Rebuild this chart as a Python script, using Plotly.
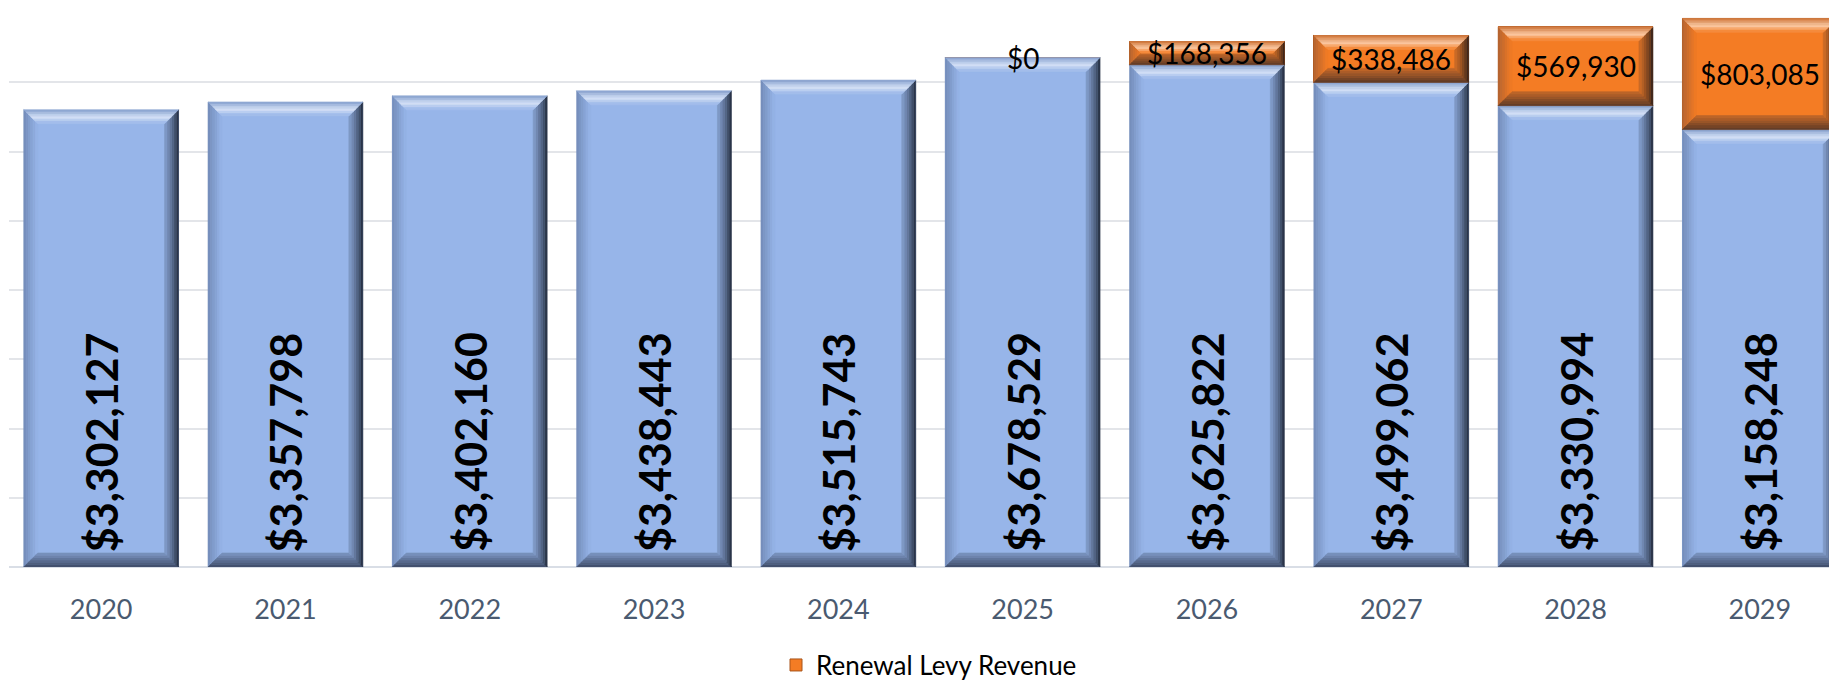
import plotly.graph_objects as go

# Revenue by year
years = [2020, 2021, 2022, 2023, 2024, 2025, 2026, 2027, 2028, 2029]
base_revenue = [3302127, 3357798, 3402160, 3438443, 3515743,
                3678529, 3625822, 3499062, 3330994, 3158248]
levy_revenue = [None, None, None, None, None, 0, 168356, 338486, 569930, 803085]

BLUE = (151, 181, 233)
ORANGE = (244, 124, 36)

W, H = 1829, 681
M_L, M_R, M_T, M_B = 9, 0, 13, 114
plot_w = W - M_L - M_R
plot_h = H - M_T - M_B
CAT_PX = 184.3           # pixels per year on the x axis
Y_MAX = 4_000_000
BAR_W = 0.84
x_range = [years[0] - 0.5, years[0] - 0.5 + plot_w / CAT_PX]

px_x = 1.0 / CAT_PX      # data units per pixel
px_y = Y_MAX / plot_h


def hexc(c):
    return "#%02x%02x%02x" % tuple(int(round(v)) for v in c)


def mix(a, b, t):
    t = max(0.0, min(1.0, t))
    return tuple(a[i] + (b[i] - a[i]) * t for i in range(3))


def palette(base):
    return {
        "top_out": mix(base, (60, 70, 100), 0.22),
        "top_hi": mix(base, (255, 255, 255), 0.6),
        "right_out": mix(base, (10, 14, 24), 0.9),
        "right_in": mix(base, (30, 40, 60), 0.3),
        "left_out": mix(base, (40, 50, 80), 0.32),
        "bot_out": mix(base, (20, 25, 40), 0.68),
        "bot_in": mix(base, (30, 40, 60), 0.22),
    }


def face_color(face, t, base, pal):
    # t: 0 at outer edge, 1 at inner edge of the bevel
    if face == "top":
        if t < 0.55:
            return mix(pal["top_out"], pal["top_hi"], t / 0.55)
        return mix(pal["top_hi"], base, (t - 0.55) / 0.45)
    if face == "right":
        return mix(pal["right_out"], mix(pal["right_in"], base, 0.5), t ** 0.7)
    if face == "left":
        return mix(pal["left_out"], base, t)
    return mix(pal["bot_out"], pal["bot_in"], t)


def bevel_shapes(xc, y0, y1, base, n=6, size_px=14):
    shapes = []
    if y1 - y0 <= 0:
        return shapes
    pal = palette(base)
    x0, x1 = xc - BAR_W / 2, xc + BAR_W / 2
    h_px = (y1 - y0) / px_y
    s = min(size_px, h_px / 2)
    bx, by = s * px_x, s * px_y
    for face in ("left", "bottom", "right", "top"):
        for k in range(n):
            t0, t1 = k / n, (k + 1) / n
            tm = (t0 + t1) / 2
            if face == "top":
                pts = [(x0 + t0 * bx, y1 - t0 * by), (x1 - t0 * bx, y1 - t0 * by),
                       (x1 - t1 * bx, y1 - t1 * by), (x0 + t1 * bx, y1 - t1 * by)]
            elif face == "bottom":
                pts = [(x0 + t0 * bx, y0 + t0 * by), (x1 - t0 * bx, y0 + t0 * by),
                       (x1 - t1 * bx, y0 + t1 * by), (x0 + t1 * bx, y0 + t1 * by)]
            elif face == "right":
                pts = [(x1 - t0 * bx, y0 + t0 * by), (x1 - t0 * bx, y1 - t0 * by),
                       (x1 - t1 * bx, y1 - t1 * by), (x1 - t1 * bx, y0 + t1 * by)]
            else:
                pts = [(x0 + t0 * bx, y0 + t0 * by), (x0 + t0 * bx, y1 - t0 * by),
                       (x0 + t1 * bx, y1 - t1 * by), (x0 + t1 * bx, y0 + t1 * by)]
            path = "M " + " L ".join(f"{px},{py}" for px, py in pts) + " Z"
            col = hexc(face_color(face, tm, base, pal))
            shapes.append(dict(type="path", path=path, xref="x", yref="y",
                               fillcolor=col, line=dict(width=0.6, color=col),
                               layer="above"))
    return shapes


fig = go.Figure()
fig.add_trace(go.Bar(
    x=years, y=base_revenue, name="Base Revenue",
    marker=dict(color=hexc(BLUE), line=dict(width=0)),
    width=BAR_W, showlegend=False, hoverinfo="skip",
))
fig.add_trace(go.Bar(
    x=years, y=levy_revenue, name="Renewal Levy Revenue",
    marker=dict(color=hexc(ORANGE), line=dict(width=1, color="#a8541a")),
    width=BAR_W, showlegend=True, hoverinfo="skip",
))

shapes = []
annotations = []
for yr, b, lv in zip(years, base_revenue, levy_revenue):
    shapes += bevel_shapes(yr, 0, b, BLUE)
    annotations.append(dict(
        x=yr, y=0, xref="x", yref="y", text=f"${b:,.0f}", textangle=-90,
        showarrow=False, yanchor="bottom", xanchor="center", yshift=13,
        font=dict(family="Lato", size=43, color="#000000", weight="bold"),
    ))
    if lv is not None:
        shapes += bevel_shapes(yr, b, b + lv, ORANGE)
        annotations.append(dict(
            x=yr, y=b + lv / 2, xref="x", yref="y", text=f"${lv:,.0f}",
            showarrow=False, yanchor="middle", xanchor="center",
            font=dict(family="Lato", size=28, color="#000000"),
        ))

fig.update_layout(
    width=W, height=H,
    margin=dict(l=M_L, r=M_R, t=M_T, b=M_B, autoexpand=False),
    paper_bgcolor="#ffffff", plot_bgcolor="#ffffff",
    barmode="stack", bargap=0.16,
    shapes=shapes, annotations=annotations,
    font=dict(family="Lato"),
    showlegend=True,
    legend=dict(orientation="h", x=0.5055, xanchor="center", y=-0.177, yanchor="middle",
                font=dict(family="Lato", size=26, color="#000000"),
                bgcolor="rgba(0,0,0,0)"),
    xaxis=dict(range=x_range, tickvals=years, ticktext=[str(y) for y in years],
               showgrid=False, zeroline=False, showline=False, ticks="",
               automargin=False,
               tickfont=dict(family="Lato", size=27, color="#4a5a70"),
               ticklabelstandoff=24),
    yaxis=dict(range=[0, Y_MAX], dtick=500000, showticklabels=False,
               showgrid=True, gridcolor="#e3e5e9", gridwidth=2,
               zeroline=True, zerolinecolor="#d9dee6", zerolinewidth=2,
               showline=False, ticks="", automargin=False),
)

fig.write_html("out.html")
